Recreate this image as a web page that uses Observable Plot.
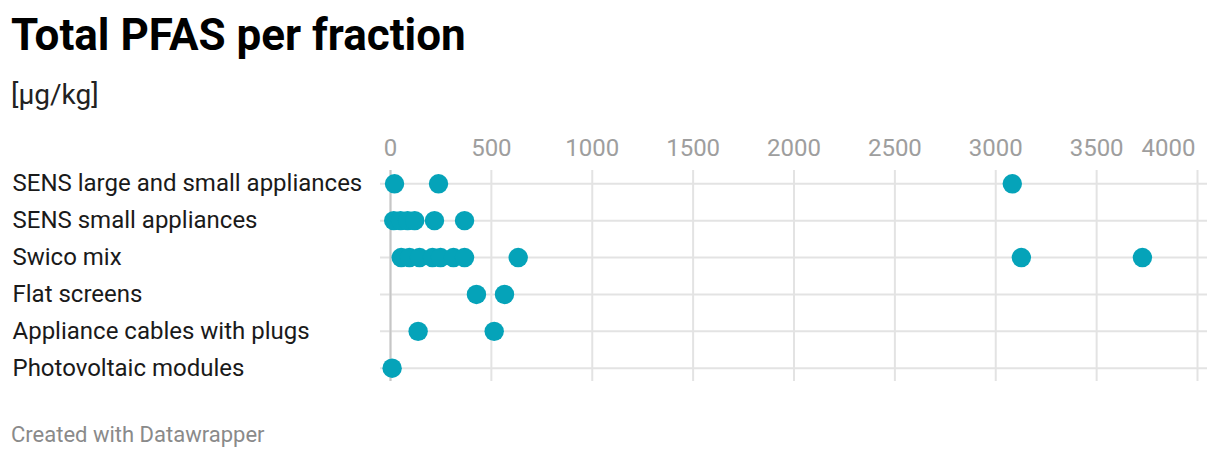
<!DOCTYPE html>
<html>
<head>
<meta charset="utf-8">
<script src="https://cdn.jsdelivr.net/npm/d3@7"></script>
<script src="https://cdn.jsdelivr.net/npm/@observablehq/plot@0.6"></script>
<style>
  html, body { margin: 0; padding: 0; background: #fff; }
  body { width: 1220px; height: 460px; font-family: Roboto, sans-serif; position: relative; overflow: hidden; }
  #title { position: absolute; left: 11px; top: 13px; font-size: 44px; line-height: 45px; font-weight: 700; color: #000; white-space: nowrap; }
  #subtitle { position: absolute; left: 11px; top: 81px; font-size: 28px; line-height: 28px; color: #222; white-space: nowrap; }
  #chart { position: absolute; left: 0; top: 130px; }
  #footer { position: absolute; left: 11px; top: 424px; font-size: 22px; line-height: 22px; color: #8a8a8a; white-space: nowrap; }
</style>
</head>
<body>
<div id="title">Total PFAS per fraction</div>
<div id="subtitle">[µg/kg]</div>
<div id="chart"></div>
<div id="footer">Created with Datawrapper</div>
<script>
const categories = [
  "SENS large and small appliances",
  "SENS small appliances",
  "Swico mix",
  "Flat screens",
  "Appliance cables with plugs",
  "Photovoltaic modules"
];
const sensLargeSmall = [20, 238, 3082];
const sensSmall = [16, 50, 85, 120, 218, 367];
const swicoMix = [53, 94, 144, 208, 248, 312, 367, 633, 3127, 3727];
const flatScreens = [426, 565];
const applianceCables = [137, 514];
const photovoltaic = [8];
const xTicks = [0, 500, 1000, 1500, 2000, 2500, 3000, 3500];
const xLastTick = [4000];

const series = [sensLargeSmall, sensSmall, swicoMix, flatScreens, applianceCables, photovoltaic];
const data = series.flatMap((vals, i) => vals.map(v => ({fraction: categories[i], value: v})));

const chart = Plot.plot({
  width: 1220,
  height: 270,
  marginLeft: 390,
  marginRight: 23,
  marginTop: 40,
  marginBottom: 19,
  style: {fontFamily: "Roboto, sans-serif", background: "transparent"},
  x: {domain: [0, 4000]},
  y: {type: "point", domain: categories, padding: 0.36, round: false},
  marks: [
    Plot.gridX(xTicks.concat(xLastTick), {stroke: "#e3e3e3", strokeOpacity: 1, strokeWidth: 2}),
    Plot.gridY(categories, {stroke: "#e3e3e3", strokeOpacity: 1, strokeWidth: 2, insetLeft: -10, insetRight: -10}),
    Plot.ruleX([0], {stroke: "#c6c6c6", strokeWidth: 2}),
    Plot.axisX(xTicks, {anchor: "top", tickSize: 0, tickPadding: 15, fontSize: 24, fill: "#9e9e9e", label: null, tickFormat: d => String(d)}),
    Plot.axisX(xLastTick, {anchor: "top", tickSize: 0, tickPadding: 15, fontSize: 24, fill: "#9e9e9e", textAnchor: "end", dx: -2, label: null, tickFormat: d => String(d)}),
    Plot.axisY({tickSize: 0, tickPadding: 0, dx: -378, textAnchor: "start", fontSize: 24, fill: "#1a1a1a", label: null}),
    Plot.dot(data, {x: "value", y: "fraction", r: 9.7, fill: "#05a3b9", stroke: null})
  ]
});
document.getElementById("chart").appendChild(chart);
</script>
</body>
</html>
